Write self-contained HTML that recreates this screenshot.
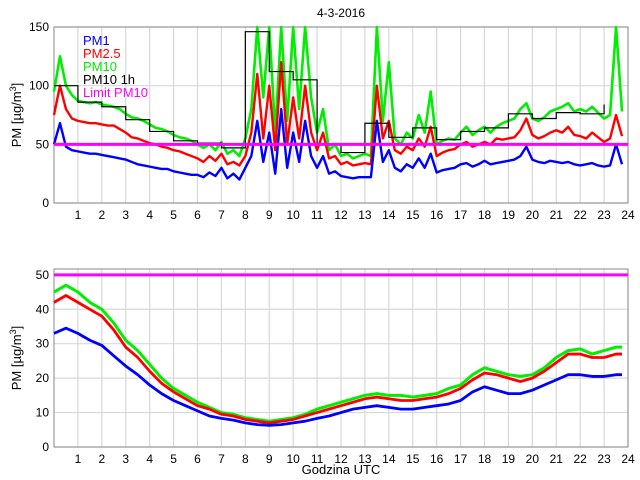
<!DOCTYPE html>
<html><head><meta charset="utf-8"><style>
body{margin:0;background:#fff;}
svg{display:block;font-family:"Liberation Sans",sans-serif;}
</style></head><body>
<svg id="c" width="640" height="480"></svg>
<script>
const hoursTop=[];for(let i=0;i<96;i++)hoursTop.push(i*0.25);
const topPM10=[95,125,100,92,87,86,85,86,84,83,82,80,76,73,72,70,67,64,63,61,58,56,55,53,50,47,50,45,52,42,45,40,55,80,150,90,150,60,150,70,150,80,150,90,60,80,45,50,40,42,38,40,42,40,150,70,120,55,50,60,55,75,60,95,50,53,55,54,60,65,58,62,65,60,65,68,70,72,80,85,72,70,73,78,80,82,85,78,80,78,82,77,72,75,150,78];
const topPM25=[75,100,80,72,70,69,68,68,67,66,66,63,60,56,55,53,51,50,48,47,45,44,42,40,38,35,40,36,42,33,35,32,40,60,110,55,100,45,120,50,90,55,100,60,45,60,38,40,33,35,32,33,34,33,100,55,70,45,42,48,45,55,48,65,40,43,45,46,50,52,48,50,52,50,55,54,55,56,62,72,58,55,57,60,62,60,65,58,57,55,60,56,52,55,75,57];
const topPM1=[50,68,48,45,44,43,42,42,41,40,39,38,37,35,33,32,31,30,29,29,27,26,25,24,24,22,26,23,30,21,25,20,30,40,70,35,60,25,80,30,60,35,70,40,30,40,25,27,23,22,21,22,22,22,70,35,45,30,27,33,30,38,30,42,26,28,29,30,33,34,31,33,36,33,34,35,36,37,40,48,37,35,34,36,35,34,35,33,32,33,34,32,31,32,50,33];
const hourly=[100,86,82,71,61,53,51,47,146,112,105,50,43,68,56,64,54,61,64,76,72,77,76];
const lastHourTop=84;
const hoursBot=[0,0.5,1,1.5,2,2.5,3,3.5,4,4.5,5,5.5,6,6.5,7,7.5,8,8.5,9,9.5,10,10.5,11,11.5,12,12.5,13,13.5,14,14.5,15,15.5,16,16.5,17,17.5,18,18.5,19,19.5,20,20.5,21,21.5,22,22.5,23,23.5,23.75];
const botPM10=[45,47,45,42,40,36,31,28,24,20,17,15,13,11.5,10,9.5,8.5,8,7.5,8,8.5,9.5,11,12,13,14,15,15.5,15,15,14.5,15,15.5,17,18,21,23,22,21,20.5,21,23,26,28,28.5,27,28,29,29];
const botPM25=[42,44,42,40,38,34,29,26,22,18.5,16,14,12,11,9.5,9,8,7.5,7,7.5,8,9,10,11,12,13,14,14.5,14,13.5,13.5,14,14.5,15.5,17,19.5,21.5,21,20,19,20,22,24.5,27,27,26,26,27,27];
const botPM1=[33,34.5,33,31,29.5,26.5,23.5,21,18,15.5,13.5,12,10.5,9,8.3,7.8,7,6.5,6.3,6.5,7,7.5,8.3,9,10,11,11.5,12,11.5,11,11,11.5,12,12.5,13.5,16,17.5,16.5,15.5,15.5,16.5,18,19.5,21,21,20.5,20.5,21,21];
const xTicks=[1,2,3,4,5,6,7,8,9,10,11,12,13,14,15,16,17,18,19,20,21,22,23,24];
const yTicksTop=[0,50,100,150];
const yTicksBot=[0,10,20,30,40,50];
const limit=50;

const NS="http://www.w3.org/2000/svg";
const svg=document.getElementById('c');
function mk(t,a,p){const e=document.createElementNS(NS,t);for(const k in a)e.setAttribute(k,a[k]);(p||svg).appendChild(e);return e;}
const L=54,R=628;
const sx=h=>L+h*(R-L)/24;
function panel(top,bot,ymax,yt,name){
  const sy=v=>bot-Math.min(v,ymax)*(bot-top)/ymax;
  const g=mk('g',{});
  
  
  xTicks.forEach(h=>{const l=mk('line',{x1:sx(h),x2:sx(h),y1:top,y2:bot,stroke:'#d8d8d8','stroke-width':1.2},g);
    
    const t=mk('text',{x:sx(h),y:bot+16,'text-anchor':'middle','font-size':12,fill:'#000'},g);t.textContent=h;
    });
  yt.forEach(v=>{const y=sy(v);mk('line',{x1:L,x2:R,y1:y,y2:y,stroke:'#d8d8d8','stroke-width':1.2},g);
    const t=mk('text',{x:L-5,y:y+4,'text-anchor':'end','font-size':12,fill:'#000'},g);t.textContent=v;
    });
  const fr=mk('rect',{x:L,y:top,width:R-L,height:bot-top,fill:'none',stroke:'#888'},g);
  
  return {g,sy};
}
function line(g,xs,ys,sy,col,w,name){
  const p=mk('polyline',{points:xs.map((h,i)=>sx(h)+','+sy(ys[i])).join(' '),fill:'none',stroke:col,'stroke-width':w,'stroke-linejoin':'round'},g);
  
}
const T=panel(27,203,150,yTicksTop,'top-panel');
line(T.g,hoursTop,topPM10,T.sy,'#00ee00',2.6,'pm10-series');
line(T.g,hoursTop,topPM25,T.sy,'#ff0000',2.4,'pm25-series');
line(T.g,hoursTop,topPM1,T.sy,'#0000ff',2.4,'pm1-series');
let pts=[];hourly.forEach((v,i)=>{pts.push(sx(i)+','+T.sy(v));pts.push(sx(i+1)+','+T.sy(v));});
pts.push(sx(23)+','+T.sy(lastHourTop));
const st=mk('polyline',{points:pts.join(' '),fill:'none',stroke:'#000','stroke-width':1.2},T.g);

const lt=mk('line',{x1:L,x2:R,y1:T.sy(limit),y2:T.sy(limit),stroke:'#ff00ff','stroke-width':3},T.g);

const leg=[['PM1','#0000ff'],['PM2.5','#ff0000'],['PM10','#00ee00'],['PM10 1h','#000'],['Limit PM10','#ff00ff']];
leg.forEach((d,i)=>{const t=mk('text',{x:83,y:45+i*13,'font-size':13,fill:d[1]});t.textContent=d[0];
  });
const B=panel(269,447,51.7,yTicksBot,'bottom-panel');
line(B.g,hoursBot,botPM10,B.sy,'#00ee00',3,'pm10-series-bottom');
line(B.g,hoursBot,botPM25,B.sy,'#ff0000',2.8,'pm25-series-bottom');
line(B.g,hoursBot,botPM1,B.sy,'#0000ff',2.8,'pm1-series-bottom');
const lb=mk('line',{x1:L,x2:R,y1:B.sy(limit),y2:B.sy(limit),stroke:'#ff00ff','stroke-width':3},B.g);

const ti=mk('text',{x:341,y:17,'text-anchor':'middle','font-size':12});ti.textContent='4-3-2016';

[[115,'y-axis-title-top'],[358,'y-axis-title-bottom']].forEach(d=>{
  const t=mk('text',{x:0,y:0,'text-anchor':'middle','font-size':13,transform:'translate(21,'+d[0]+') rotate(-90)'});
  t.innerHTML='PM [µg/m<tspan dy="-5" font-size="9">3</tspan><tspan dy="5">]</tspan>';
  });
const xl=mk('text',{x:341,y:474,'text-anchor':'middle','font-size':13});xl.textContent='Godzina UTC';

</script>
</body></html>
